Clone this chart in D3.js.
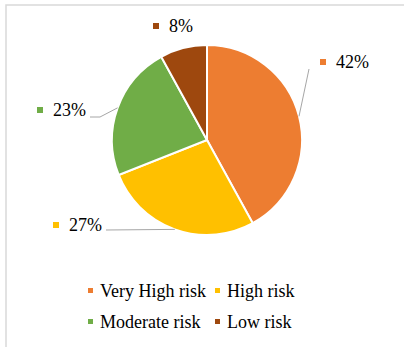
<!DOCTYPE html>
<html>
<head>
<meta charset="utf-8">
<script src="https://cdn.jsdelivr.net/npm/d3@7"></script>
<style>
  html, body { margin: 0; padding: 0; background: #fff; }
  svg { display: block; }
</style>
</head>
<body>
<div id="chart"></div>
<script>
// data
let categories = ['Very High risk', 'High risk', 'Moderate risk', 'Low risk'];
let shares = [42, 27, 23, 8];
let colors = ['#ED7D31', '#FFC000', '#70AD47', '#9E480E'];

let width = 404,
    height = 347,
    cx = 207,
    cy = 140,
    radius = 95;

// label boxes (square + text), placed like the original data labels
let labelLayout = [
    {x: 320, y: 68, leader: 'straight', end: [309, 69]},
    {x: 53, y: 231, leader: 'straight', end: [106, 230]},
    {x: 37, y: 116, leader: 'elbow', end: [90, 117], knee: [100, 117]},
    {x: 153, y: 32, leader: 'none'}
];

let svg = d3.select('#chart').append('svg')
    .attr('width', width)
    .attr('height', height)
    .attr('font-family', "'Liberation Serif', 'Times New Roman', serif");

// chart area frame
svg.append('rect')
    .attr('x', 6)
    .attr('y', 5)
    .attr('width', width + 20)
    .attr('height', height + 20)
    .attr('fill', 'none')
    .attr('stroke', '#d9d9d9')
    .attr('stroke-width', 1.5);

let pie = d3.pie().sort(null).value(d => d);
let arcs = pie(shares);

let arc = d3.arc().innerRadius(0).outerRadius(radius);

let pie_g = svg.append('g')
    .attr('transform', `translate(${cx}, ${cy})`);

pie_g.selectAll('path')
    .data(arcs)
    .join('path')
    .attr('d', arc)
    .attr('fill', (d, i) => colors[i])
    .attr('stroke', '#fff')
    .attr('stroke-width', 2);

// leader lines from slice edge to label
let leader_g = svg.append('g');
arcs.forEach(function (d, i) {
    let lay = labelLayout[i];
    if (lay.leader === 'none') return;
    let mid = (d.startAngle + d.endAngle) / 2;
    let px = cx + Math.sin(mid) * radius,
        py = cy - Math.cos(mid) * radius;
    let pts = [[px, py]];
    if (lay.knee) pts.push(lay.knee);
    pts.push(lay.end);
    leader_g.append('path')
        .attr('d', d3.line()(pts))
        .attr('fill', 'none')
        .attr('stroke', '#a6a6a6')
        .attr('stroke-width', 1);
});

let label_g = svg.append('g');
arcs.forEach(function (d, i) {
    let lay = labelLayout[i];
    label_g.append('rect')
        .attr('x', lay.x)
        .attr('y', lay.y - 9)
        .attr('width', 6)
        .attr('height', 6)
        .attr('fill', colors[i]);
    label_g.append('text')
        .attr('x', lay.x + 16)
        .attr('y', lay.y)
        .attr('font-size', 18)
        .attr('fill', '#000')
        .text(d3.format('.0%')(d.data / 100));
});

// legend, two columns
let legendX = [88, 215],
    legendY = [297, 328];

let legend_g = svg.append('g');
categories.forEach(function (c, i) {
    let lx = legendX[i % 2],
        ly = legendY[Math.floor(i / 2)];
    legend_g.append('rect')
        .attr('x', lx)
        .attr('y', ly - 9)
        .attr('width', 5)
        .attr('height', 5)
        .attr('fill', colors[i]);
    legend_g.append('text')
        .attr('x', lx + 12)
        .attr('y', ly)
        .attr('font-size', 18)
        .attr('fill', '#000')
        .text(c);
});
</script>
</body>
</html>
